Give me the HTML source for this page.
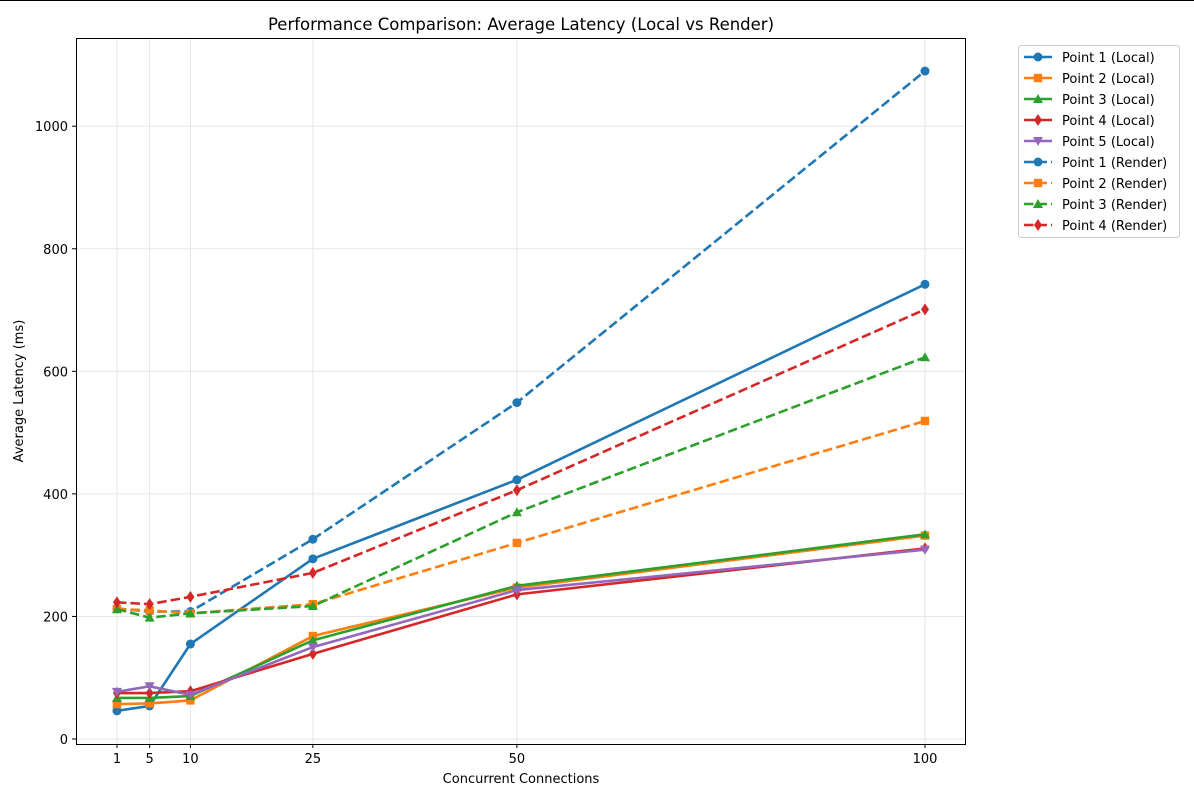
<!DOCTYPE html>
<html><head><meta charset="utf-8"><style>
body{margin:0;background:#fff;font-family:"Liberation Sans","DejaVu Sans",sans-serif}
svg text{font-family:"DejaVu Sans","Liberation Sans",sans-serif;fill:#000}
</style></head><body>
<svg id="chart" width="1194" height="796" xmlns="http://www.w3.org/2000/svg">
<rect width="1194" height="796" fill="#fff"/>
<line x1="0" y1="0.5" x2="1194" y2="0.5" stroke="#000" stroke-width="1"/>
<g id="grid"></g>
<g id="series"></g>
<rect x="76.5" y="38.5" width="889" height="706" fill="none" stroke="#000" stroke-width="1"/>
<g id="axes"></g>
<text x="521" y="30" font-size="16.5" text-anchor="middle">Performance Comparison: Average Latency (Local vs Render)</text>
<text x="521" y="783" font-size="13" text-anchor="middle">Concurrent Connections</text>
<text transform="translate(23,391) rotate(-90)" font-size="13" text-anchor="middle">Average Latency (ms)</text>
<g id="legend"></g>
</svg>
<script>
const categories=[1,5,10,25,50,100];
const yTicks=[0,200,400,600,800,1000];
const seriesNames=["Point 1 (Local)","Point 2 (Local)","Point 3 (Local)","Point 4 (Local)","Point 5 (Local)","Point 1 (Render)","Point 2 (Render)","Point 3 (Render)","Point 4 (Render)"];
const local1=[46,54,155,294,423,742];
const local2=[57,58,63,168,247,332];
const local3=[67,67,70,161,250,334];
const local4=[75,75,78,139,236,311];
const local5=[77,86,72,150,243,309];
const render1=[213,208,208,326,549,1090];
const render2=[212,210,205,220,320,519];
const render3=[212,198,205,217,370,623];
const render4=[223,220,232,271,406,701];
const allSeries=[local1,local2,local3,local4,local5,render1,render2,render3,render4];
const colors=["#1f77b4","#ff7f0e","#2ca02c","#d62728","#9467bd","#1f77b4","#ff7f0e","#2ca02c","#d62728"];
const markers=["o","s","^","d","v","o","s","^","d"];
const dashed=[false,false,false,false,false,true,true,true,true];
const NS="http://www.w3.org/2000/svg";
function X(v){return 108.8+v*8.162;}
function Y(v){return 739-v*0.6128;}
function mk(tag,attrs,parent){const e=document.createElementNS(NS,tag);for(const k in attrs)e.setAttribute(k,attrs[k]);parent.appendChild(e);return e;}
const grid=document.getElementById('grid'),axes=document.getElementById('axes');
categories.forEach(c=>{
 const g=mk('line',{x1:X(c),x2:X(c),y1:38,y2:744,stroke:'#e6e6e6','stroke-width':1},grid);
 
 
 mk('line',{x1:X(c),x2:X(c),y1:744,y2:748,stroke:'#000'},axes);
 const t=mk('text',{x:X(c),y:763,'font-size':13,'text-anchor':'middle'},axes);t.textContent=c;
 
 
});
yTicks.forEach(v=>{
 const g=mk('line',{x1:76,x2:966,y1:Y(v),y2:Y(v),stroke:'#e6e6e6','stroke-width':1},grid);
 
 
 mk('line',{x1:72,x2:76,y1:Y(v),y2:Y(v),stroke:'#000'},axes);
 const t=mk('text',{x:68,y:Y(v)+5,'font-size':13,'text-anchor':'end'},axes);t.textContent=v;
 
 
});
function marker(type,x,y,c,parent,s){
 s=s||1;let e;
 if(type==='o')e=mk('circle',{cx:x,cy:y,r:4.5*s,fill:c},parent);
 else if(type==='s')e=mk('rect',{x:x-4.2*s,y:y-4.2*s,width:8.4*s,height:8.4*s,fill:c},parent);
 else if(type==='^')e=mk('polygon',{points:`${x},${y-5*s} ${x-5*s},${y+4*s} ${x+5*s},${y+4*s}`,fill:c},parent);
 else if(type==='v')e=mk('polygon',{points:`${x},${y+5*s} ${x-5*s},${y-4*s} ${x+5*s},${y-4*s}`,fill:c},parent);
 else e=mk('polygon',{points:`${x},${y-6*s} ${x-4*s},${y} ${x},${y+6*s} ${x+4*s},${y}`,fill:c},parent);
 return e;
}
const sg=document.getElementById('series');
allSeries.forEach((d,i)=>{
 const g=mk('g',{},sg);
 
 
 const pts=d.map((v,j)=>X(categories[j])+','+Y(v)).join(' ');
 const attrs={points:pts,fill:'none',stroke:colors[i],'stroke-width':2.6,'stroke-linejoin':'round'};
 if(dashed[i])attrs['stroke-dasharray']='9.5,4';
 mk('polyline',attrs,g);
 d.forEach((v,j)=>{const m=marker(markers[i],X(categories[j]),Y(v),colors[i],g);
  
  });
});
const lg=document.getElementById('legend');
mk('rect',{x:1018.5,y:45.5,width:161,height:192,rx:3,fill:'#fff',stroke:'#ccc'},lg);
seriesNames.forEach((n,i)=>{
 const y=57+i*21;
 const e=mk('g',{},lg);
 
 
 const a={x1:1024,x2:1052,y1:y,y2:y,stroke:colors[i],'stroke-width':2.6};
 if(dashed[i])a['stroke-dasharray']='9.5,4';
 mk('line',a,e);
 marker(markers[i],1038,y,colors[i],e);
 const t=mk('text',{x:1062,y:y+5,'font-size':13},e);t.textContent=n;
});
</script>
</body></html>
